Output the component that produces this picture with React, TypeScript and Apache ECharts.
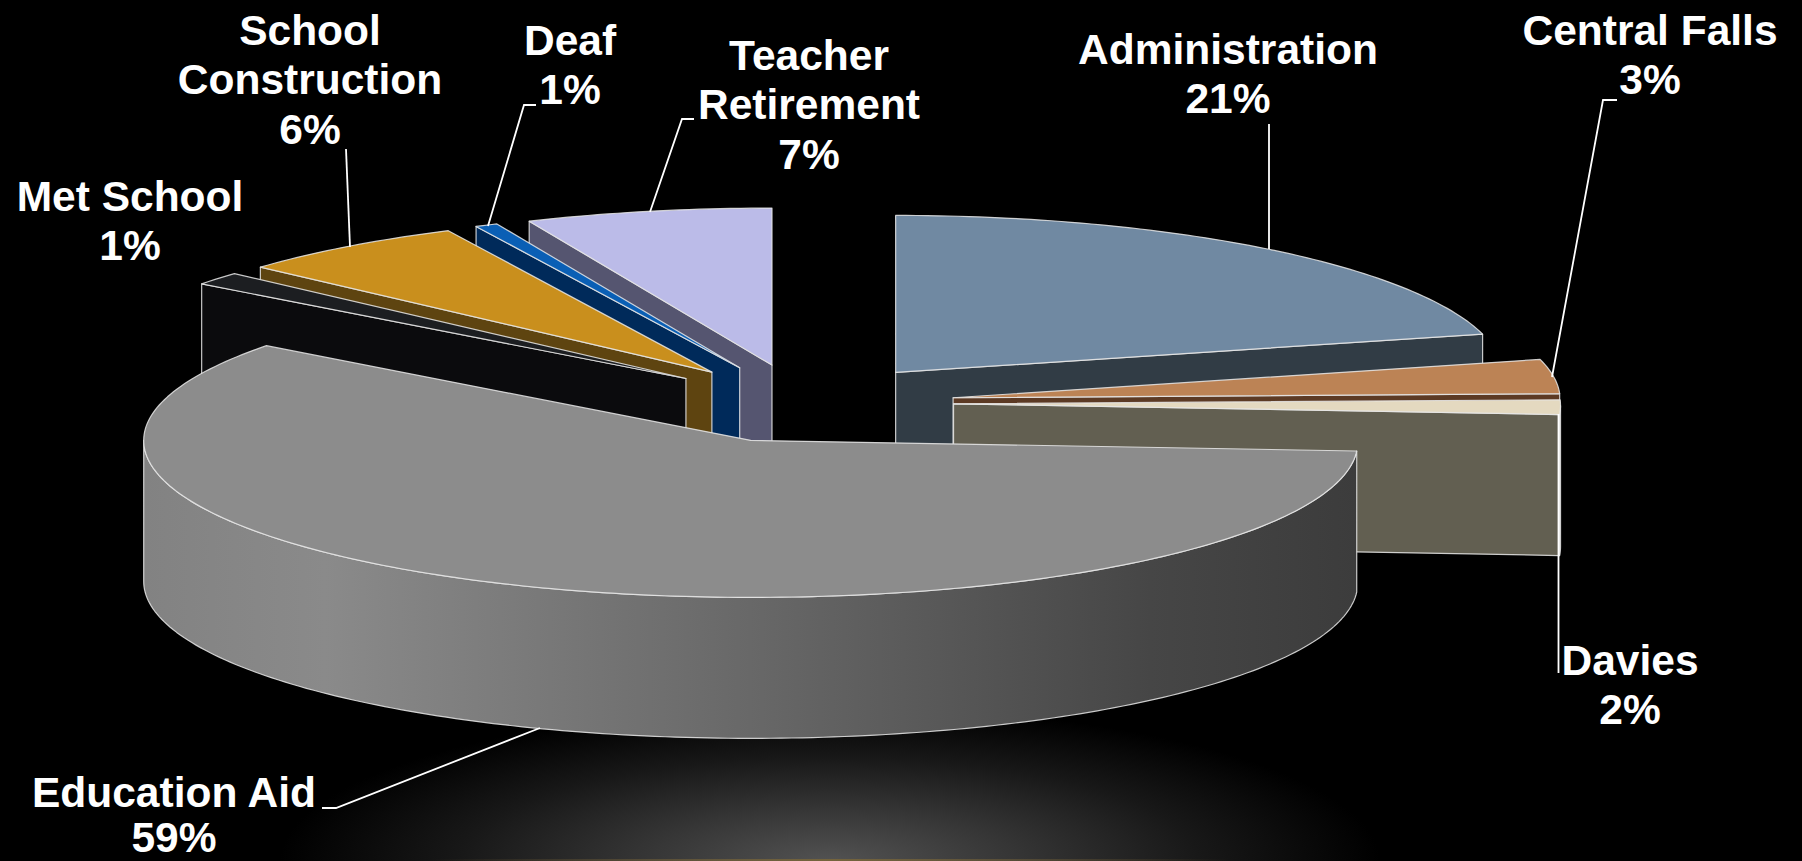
import React, { useEffect, useRef } from "react";
import * as echarts from "echarts";

// Data, clockwise from twelve o'clock (percent of the budget)
const categories = ["Administration", "Central Falls", "Davies", "Education Aid", "Met School", "School Construction", "Deaf", "Teacher Retirement"];
const shares = [20.9, 3.5, 1.5, 59.4, 1.35, 6.2, 0.6, 6.55];
const shownPercents = ["21%", "3%", "2%", "59%", "1%", "6%", "1%", "7%"];
const labelLines = [
  ["Administration"],
  ["Central Falls"],
  ["Davies"],
  ["Education Aid"],
  ["Met School"],
  ["School", "Construction"],
  ["Deaf"],
  ["Teacher", "Retirement"],
];

// Back-to-front painting order
const drawOrder = [7, 6, 5, 4, 0, 1, 2, 3];

const topColors = ["#7089a2", "#bc8355", "#e4d9c0", "#8c8c8c", "#1c1e21", "#c98f1d", "#0a5fb5", "#bbbbe8"];
const wallColors = ["#313c45", "#5c3a24", "#625f51", "#3c3c3c", "#0b0b0d", "#5e4410", "#002a5a", "#555570"];
const explodes = [0.25, 0.25, 0.248, 0.25, 0.25, 0.25, 0.25, 0.25];

const WIDTH = 1802;
const HEIGHT = 861;
const PIE = { cx: 803, cy: 403.5, rx: 607, ry: 157, depth: 141 };
const EDGE = "rgba(232,232,232,0.85)";
const EDGE_WIDTH = 1.2;

const labelAnchors = [
  { x: 1228, y: 49, gap: 49.6 },
  { x: 1650, y: 30, gap: 49.6 },
  { x: 1630, y: 660, gap: 49.6 },
  { x: 174, y: 792, gap: 45.5 },
  { x: 130, y: 196, gap: 49.6 },
  { x: 310, y: 30, gap: 49.6 },
  { x: 570, y: 40, gap: 49.6 },
  { x: 809, y: 55, gap: 49.6 },
];

const leaderLines = [
  [[1269, 124], [1269, 249]],
  [[1617, 100], [1603, 100], [1552, 377]],
  [[1558.5, 414], [1558.5, 673]],
  [[322, 808], [336, 808], [540, 728]],
  [[346, 149], [350, 247]],
  [[536, 105], [524, 105], [488, 226]],
  [[694, 119], [682, 119], [650, 212]],
];

const startShares = shares.map((_, i) => shares.slice(0, i).reduce((a, b) => a + b, 0));

function renderSlice(params: any, api: any) {
  const index = drawOrder[params.dataIndex];
  const a1 = (api.value(1) * 3.6 * Math.PI) / 180;
  const a2 = ((api.value(1) + api.value(0)) * 3.6 * Math.PI) / 180;
  const mid = (a1 + a2) / 2;
  const e = explodes[index];
  const ox = PIE.cx + e * PIE.rx * Math.sin(mid);
  const oy = PIE.cy - e * PIE.ry * Math.cos(mid);
  // the slight perspective of the source: the right side sags a little
  const rim = (a: number) => {
    const s = Math.max(Math.sin(a), 0);
    return [ox + PIE.rx * Math.sin(a), oy - PIE.ry * Math.cos(a) + 1.8 * s * s];
  };
  const down = (p: number[]) => [p[0], p[1] + PIE.depth];
  const arc = (from: number, to: number) => {
    const n = Math.max(2, Math.ceil(((to - from) * 180) / Math.PI));
    const pts: number[][] = [];
    for (let k = 0; k <= n; k++) pts.push(rim(from + ((to - from) * k) / n));
    return pts;
  };
  const apex = [ox, oy];
  const children: any[] = [];
  const wall = (points: number[][], fill: any) => {
    children.push({
      type: "polygon",
      shape: { points },
      style: { fill, stroke: EDGE, lineWidth: EDGE_WIDTH, lineJoin: "round" },
    });
  };
  // radial walls that face the viewer
  if (Math.sin(a2) > 0) {
    const r = rim(a2);
    wall([apex, r, down(r), down(apex)], wallColors[index]);
  }
  if (Math.sin(a1) < 0) {
    const r = rim(a1);
    wall([apex, r, down(r), down(apex)], wallColors[index]);
  }
  // outer wall on the front half
  const from = Math.max(a1, Math.PI / 2);
  const to = Math.min(a2, (3 * Math.PI) / 2);
  if (to > from) {
    const upper = arc(from, to);
    const lower = upper.map(down).reverse();
    wall(upper.concat(lower), new echarts.graphic.LinearGradient(0, 0, 1, 0, [
      { offset: 0, color: "#828282" },
      { offset: 0.15, color: "#8a8a8a" },
      { offset: 0.5, color: "#686868" },
      { offset: 0.83, color: "#464646" },
      { offset: 1, color: "#3c3c3c" },
    ]));
  }
  // top face
  children.push({
    type: "polygon",
    shape: { points: [apex].concat(arc(a1, a2)) },
    style: { fill: topColors[index], stroke: EDGE, lineWidth: EDGE_WIDTH, lineJoin: "round" },
  });
  return { type: "group", children };
}

function buildOption() {
  const graphics: any[] = [
    {
      type: "rect",
      z: 0,
      silent: true,
      shape: { x: 0, y: 0, width: WIDTH, height: HEIGHT },
      style: { fill: "#000000" },
    },
    {
      type: "rect",
      z: 1,
      silent: true,
      shape: { x: 280, y: 706, width: 1100, height: 310 },
      style: {
        fill: new echarts.graphic.RadialGradient(0.5, 0.5, 0.5, [
          { offset: 0, color: "#525252" },
          { offset: 0.33, color: "#363636" },
          { offset: 0.67, color: "#181818" },
          { offset: 1, color: "#000000" },
        ]),
      },
    },
    {
      type: "rect",
      z: 1,
      silent: true,
      shape: { x: 430, y: 859, width: 800, height: 2 },
      style: {
        fill: new echarts.graphic.LinearGradient(0, 0, 1, 0, [
          { offset: 0, color: "rgba(110,90,50,0)" },
          { offset: 0.5, color: "#75643c" },
          { offset: 1, color: "rgba(110,90,50,0)" },
        ]),
      },
    },
  ];
  leaderLines.forEach((points) => {
    graphics.push({
      type: "polyline",
      z: 20,
      silent: true,
      shape: { points },
      style: { stroke: "#ffffff", lineWidth: 1.8, fill: "none" },
    });
  });
  categories.forEach((_, i) => {
    const lines = labelLines[i].concat(shownPercents[i]);
    lines.forEach((text, k) => {
      graphics.push({
        type: "text",
        z: 30,
        silent: true,
        x: labelAnchors[i].x,
        y: labelAnchors[i].y + k * labelAnchors[i].gap,
        style: {
          text,
          fill: "#ffffff",
          font: 'bold 42.5px "Liberation Sans", Arial, sans-serif',
          align: "center",
          verticalAlign: "middle",
        },
      });
    });
  });
  return {
    animation: false,
    backgroundColor: "#000000",
    graphic: graphics,
    series: [
      {
        type: "custom",
        coordinateSystem: "none",
        silent: true,
        z: 5,
        renderItem: renderSlice,
        data: drawOrder.map((i) => ({ name: categories[i], value: [shares[i], startShares[i]] })),
      },
    ],
  };
}

export default function App() {
  const ref = useRef<HTMLDivElement>(null);
  useEffect(() => {
    document.body.style.margin = "0";
    document.body.style.background = "#000";
    const chart = echarts.init(ref.current!, null, { renderer: "svg", width: WIDTH, height: HEIGHT });
    chart.setOption(buildOption() as any);
    return () => chart.dispose();
  }, []);
  return <div ref={ref} style={{ width: WIDTH, height: HEIGHT }} />;
}
